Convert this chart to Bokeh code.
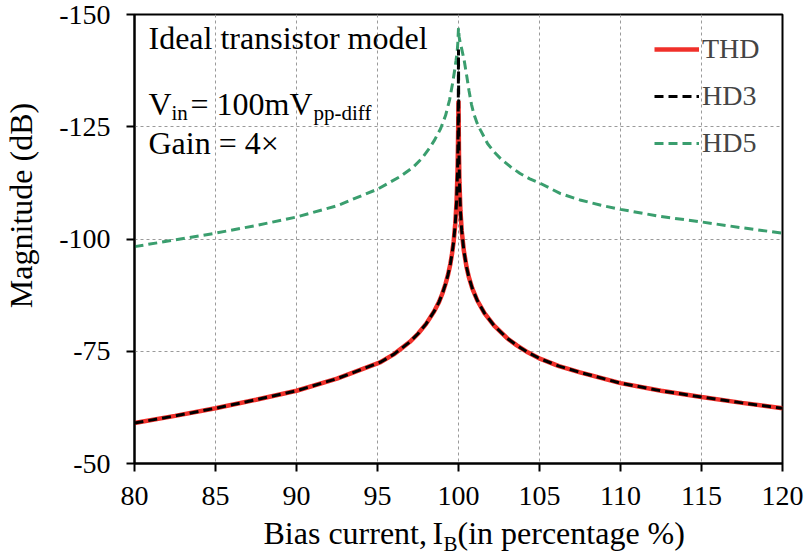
from bokeh.plotting import figure
from bokeh.models import Range1d, FixedTicker, Label, Legend, LegendItem
from bokeh.layouts import gridplot
from bokeh.embed import file_html
from bokeh.resources import INLINE
import math

# ---------------- data ----------------
bias_thd = [80, 82.5, 85, 87.5, 90, 92.5, 95.2, 96.0, 96.5, 97.0, 97.5, 98.0, 98.5, 98.8, 99.0, 99.2,
            99.35, 99.5, 99.6, 99.7, 99.8, 99.88, 99.94, 99.97, 99.985, 100,
            100.015, 100.03, 100.06, 100.12, 100.2, 100.33, 100.5, 100.64, 100.85, 101.16, 101.6, 102.2,
            103.0, 103.6, 104.3, 105.06, 106.2, 107.5, 110, 112.5, 115, 117.5, 120]
thd = [-59.0, -60.6, -62.3, -64.2, -66.2, -68.9, -72.6, -74.3, -75.7, -77.1, -78.9, -81.1, -83.9, -86.0, -87.8, -90.0,
       -92.0, -94.5, -96.7, -99.4, -103.4, -108.3, -115.0, -121.5, -126.0, -130.8,
       -125.0, -119.0, -112.6, -106.3, -101.8, -97.4, -93.7, -91.5, -89.0, -86.3, -83.5, -80.7,
       -77.9, -76.3, -74.7, -73.3, -71.7, -70.3, -67.9, -66.2, -64.8, -63.5, -62.3]
bias_hd3 = [80, 82.5, 85, 87.5, 90, 92.5, 95.2, 96.0, 96.5, 97.0, 97.5, 98.0, 98.5, 98.8, 99.0, 99.2,
            99.35, 99.5, 99.6, 99.7, 99.8, 99.88, 99.94, 99.97, 99.985, 99.993, 100, 100.007,
            100.015, 100.03, 100.06, 100.12, 100.2, 100.33, 100.5, 100.64, 100.85, 101.16, 101.6, 102.2,
            103.0, 103.6, 104.3, 105.06, 106.2, 107.5, 110, 112.5, 115, 117.5, 120]
hd3 = [-59.0, -60.6, -62.3, -64.2, -66.2, -68.9, -72.6, -74.3, -75.7, -77.1, -78.9, -81.1, -83.9, -86.0, -87.8, -90.0,
       -92.0, -94.5, -96.7, -99.4, -103.4, -108.3, -115.0, -121.5, -128.5, -135.5, -142.2, -134.0,
       -127.5, -119.0, -112.6, -106.3, -101.8, -97.4, -93.7, -91.5, -89.0, -86.3, -83.5, -80.7,
       -77.9, -76.3, -74.7, -73.3, -71.7, -70.3, -67.9, -66.2, -64.8, -63.5, -62.3]
bias_hd5 = [80, 82.5, 85, 87.5, 90, 92.5, 95, 96.4, 97.2, 97.75, 98.2, 98.5, 98.9, 99.2, 99.45, 99.65, 99.75,
            99.85, 99.92, 99.96, 100,
            100.04, 100.1, 100.2, 100.35, 100.5, 100.65, 100.8, 100.95, 101.15, 101.35, 101.8, 102.2, 102.6,
            103.2, 103.8, 104.4, 105.1, 106.3, 107.5, 108.8, 110, 112.5, 115, 117.5, 120]
hd5 = [-98.3, -99.8, -101.3, -103.0, -104.9, -107.4, -111.1, -113.9, -116.0, -118.0, -120.2, -121.9, -124.6,
       -127.5, -131.0, -135.0, -137.3, -139.8, -141.8, -143.8, -147.0,
       -145.0, -143.8, -142.3, -139.8, -136.5, -133.0, -130.0, -127.8, -125.8, -124.3, -121.2, -119.4, -117.9,
       -116.1, -114.6, -113.4, -112.3, -110.1, -108.7, -107.5, -106.6, -105.0, -103.8, -102.5, -101.3]

x_ticks = [80, 85, 90, 95, 100, 105, 110, 115, 120]
y_ticks = [-150, -125, -100, -75, -50]
y_tick_text = ["-150", "-125", "-100", "-75", "-50"]

FONT = "Liberation Serif"
W = 807
W_LEFT = 40
H_MAIN, H_LAB = 514, 42
L, R, T = 134, 25, 14
FRAME_BOTTOM = 463
B = H_MAIN - FRAME_BOTTOM


def base_shift(size_px):
    # alphabetic-baseline correction observed for Bokeh labels
    return 0.31 * size_px


def txt(fig, s, x, y, size, **kw):
    fig.add_layout(Label(x=x, y=y, text=s, text_font=FONT, text_font_size=f"{size}px",
                         text_color="black", text_baseline="alphabetic", **kw))


# ---------------- main plot ----------------
p = figure(width=W - W_LEFT, height=H_MAIN, output_backend="svg", toolbar_location=None,
           x_range=Range1d(80, 120), y_range=Range1d(-50, -150),
           min_border_left=L - W_LEFT, min_border_right=R, min_border_top=T, min_border_bottom=B)
p.background_fill_color = "white"
p.border_fill_color = "white"
p.outline_line_color = "black"
p.outline_line_width = 2
p.outline_line_alpha = 1

for ax, ticks in ((p.xaxis, x_ticks), (p.yaxis, y_ticks)):
    ax.ticker = FixedTicker(ticks=ticks)
    ax.axis_line_color = "black"
    ax.axis_line_width = 2
    ax.major_tick_line_color = "black"
    ax.major_tick_line_width = 2
    ax.major_tick_in = 0
    ax.major_tick_out = 8
    ax.minor_tick_line_color = None
    ax.major_label_text_font = FONT
    ax.major_label_text_font_size = "28px"
    ax.major_label_text_color = "black"
p.xaxis.major_label_standoff = 15
p.yaxis.major_label_standoff = 16
p.yaxis.major_label_overrides = {v: t for v, t in zip(y_ticks, y_tick_text)}

p.xgrid.ticker = FixedTicker(ticks=x_ticks)
p.ygrid.ticker = FixedTicker(ticks=y_ticks)
for g in (p.xgrid, p.ygrid):
    g.grid_line_color = "#9a9a9a"
    g.grid_line_width = 1
    g.grid_line_dash = "3 3"

r5 = p.line(bias_hd5, hd5, line_color="#3a9e6e", line_width=3, line_dash="9 5")
rt = p.line(bias_thd, thd, line_color="#f0302a", line_width=4.5)
r3 = p.line(bias_hd3, hd3, line_color="black", line_width=3, line_dash="9 5")

legend = Legend(items=[LegendItem(label="THD", renderers=[rt]),
                       LegendItem(label="HD3", renderers=[r3]),
                       LegendItem(label="HD5", renderers=[r5])],
                location="top_right")
legend.background_fill_alpha = 0
legend.border_line_alpha = 0
legend.label_text_font = FONT
legend.label_text_font_size = "28px"
legend.glyph_width = 45
legend.glyph_height = 30
legend.label_height = 30
legend.label_width = 61
legend.label_standoff = 3
legend.spacing = 15
legend.padding = 10
legend.margin = 9
p.add_layout(legend)

fw = W - L - R
fh = FRAME_BOTTOM - T
def dx(px):
    return 80 + (px - L) * 40.0 / fw
def dy(py):
    return -150 + (py - T) * 100.0 / fh

txt(p, "Ideal transistor model", dx(148), dy(47 - base_shift(32)), 32)
txt(p, "V", dx(148), dy(113 - base_shift(32)), 32)
txt(p, "in", dx(171), dy(119 - base_shift(21)), 21)
txt(p, "= 100mV", dx(190), dy(113 - base_shift(32)), 32)
txt(p, "pp-diff", dx(313), dy(119 - base_shift(21)), 21)
txt(p, "Gain = 4\u00d7", dx(148), dy(152 - base_shift(32)), 32)

# ---------------- y-axis title strip (page pixel coordinates) ----------------
pl = figure(width=W_LEFT, height=H_MAIN, output_backend="svg", toolbar_location=None,
            x_range=Range1d(0, W_LEFT), y_range=Range1d(FRAME_BOTTOM, T),
            x_axis_type=None, y_axis_type=None,
            min_border_left=0, min_border_right=0, min_border_top=T, min_border_bottom=B)
# ---------------- x-axis title strip (page pixel coordinates) ----------------
pb = figure(width=W - W_LEFT, height=H_LAB, output_backend="svg", toolbar_location=None,
            x_range=Range1d(L, W - R), y_range=Range1d(H_MAIN + H_LAB, H_MAIN),
            x_axis_type=None, y_axis_type=None,
            min_border_left=L - W_LEFT, min_border_right=R, min_border_top=0, min_border_bottom=0)
for f in (pl, pb):
    f.outline_line_color = None
    f.xgrid.visible = False
    f.ygrid.visible = False
    f.background_fill_color = "white"
    f.border_fill_color = "white"

txt(pl, "Magnitude (dB)", 30 - base_shift(32), 205, 32, angle=math.pi / 2, text_align="center")

txt(pb, "Bias current,", 263, 542 - base_shift(32), 32)
txt(pb, "I", 432, 542 - base_shift(32), 32)
txt(pb, "B", 443, 550 - base_shift(21), 21)
txt(pb, "(in percentage %)", 457, 542 - base_shift(32), 32)

grid = gridplot([[pl, p], [None, pb]], toolbar_location=None)
open("out.html", "w").write(file_html(grid, INLINE))
